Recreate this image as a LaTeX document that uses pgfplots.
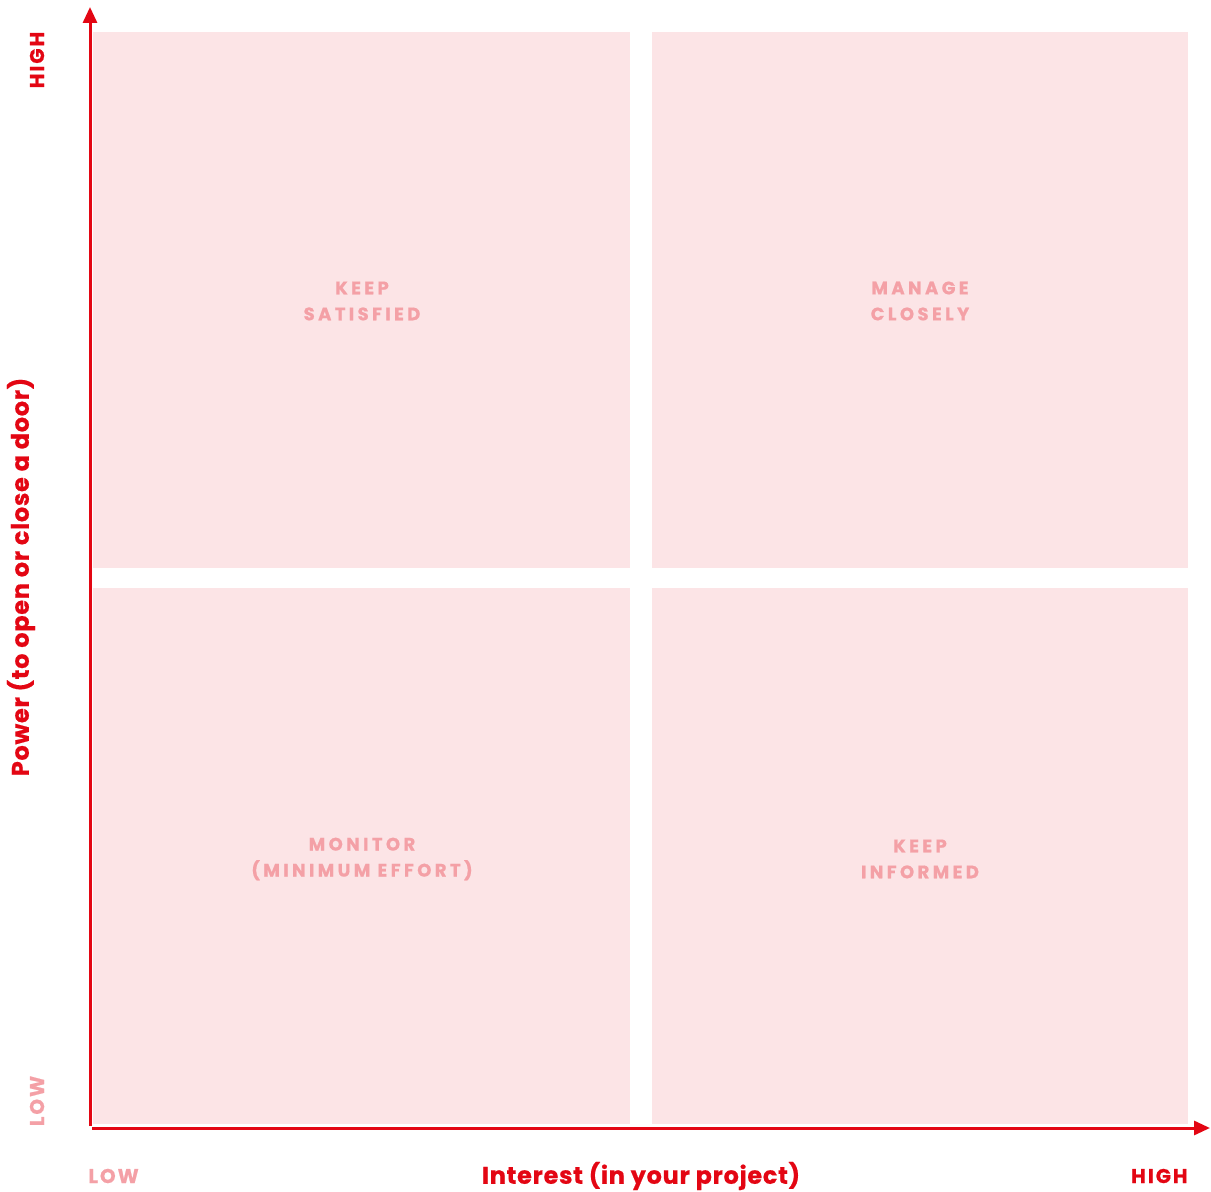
\documentclass[border=0pt]{standalone}
\usepackage{fontspec}
\setmainfont{Poppins}
\newfontfamily\quadfont[LetterSpace=19,FakeBold=0.8]{Poppins}
\newfontfamily\edgefont[LetterSpace=10,FakeBold=0.6]{Poppins}
\newfontfamily\labfont[LetterSpace=3,FakeBold=0.6]{Poppins}
\usepackage{pgfplots}
\pgfplotsset{compat=1.18}
\usetikzlibrary{arrows.meta}
\definecolor{axred}{HTML}{E30613}
\definecolor{quadpink}{HTML}{FCE4E6}
\definecolor{lblpink}{HTML}{F4A0A6}
\begin{document}
\begin{tikzpicture}
\begin{axis}[
  scale only axis, width=605.5pt, height=595.5pt,
  xmin=0, xmax=1211, ymin=0, ymax=1191,
  hide axis, clip=false,
]
% quadrants
\addplot[fill=quadpink, draw=none] coordinates {(93,67) (630,67) (630,603) (93,603)} -- cycle;
\addplot[fill=quadpink, draw=none] coordinates {(652,67) (1188,67) (1188,603) (652,603)} -- cycle;
\addplot[fill=quadpink, draw=none] coordinates {(93,623) (630,623) (630,1159) (93,1159)} -- cycle;
\addplot[fill=quadpink, draw=none] coordinates {(652,623) (1188,623) (1188,1159) (652,1159)} -- cycle;
% axes
\addplot[axred, line width=1.5pt, -{Triangle[length=8pt,width=7pt]}] coordinates {(90,65) (90,1184)};
\addplot[axred, line width=1.5pt, -{Triangle[length=8pt,width=7pt]}] coordinates {(92,63) (1210,63)};
% quadrant labels
\node[align=center, text=lblpink, font=\quadfont\bfseries\fontsize{9}{13}\selectfont] at (axis cs:362,890) {KEEP\\SATISFIED};
\node[align=center, text=lblpink, font=\quadfont\bfseries\fontsize{9}{13}\selectfont] at (axis cs:920,890) {MANAGE\\CLOSELY};
\node[align=center, text=lblpink, font=\quadfont\bfseries\fontsize{9}{13}\selectfont] at (axis cs:362,332) {MONITOR\\(MINIMUM EFFORT)};
\node[align=center, text=lblpink, font=\quadfont\bfseries\fontsize{9}{13}\selectfont] at (axis cs:920,332) {KEEP\\INFORMED};
% axis labels
\node[text=axred, font=\labfont\bfseries\fontsize{12}{14}\selectfont] at (axis cs:641,15) {Interest (in your project)};
\node[text=axred, rotate=90, font=\labfont\bfseries\fontsize{12}{14}\selectfont] at (axis cs:21,614) {Power (to open or close a door)};
% ends
\node[text=axred, rotate=90, font=\edgefont\bfseries\fontsize{10}{12}\selectfont] at (axis cs:37,1131) {HIGH};
\node[text=lblpink, rotate=90, font=\edgefont\bfseries\fontsize{10}{12}\selectfont] at (axis cs:37,90) {LOW};
\node[text=lblpink, anchor=west, inner xsep=0pt, font=\edgefont\bfseries\fontsize{10}{12}\selectfont] at (axis cs:88,15) {LOW};
\node[text=axred, anchor=east, inner xsep=0pt, font=\edgefont\bfseries\fontsize{10}{12}\selectfont] at (axis cs:1188,15) {HIGH};
\end{axis}
\pgfresetboundingbox
\path (0,0) rectangle (605.5pt,595.5pt);
\end{tikzpicture}
\end{document}
